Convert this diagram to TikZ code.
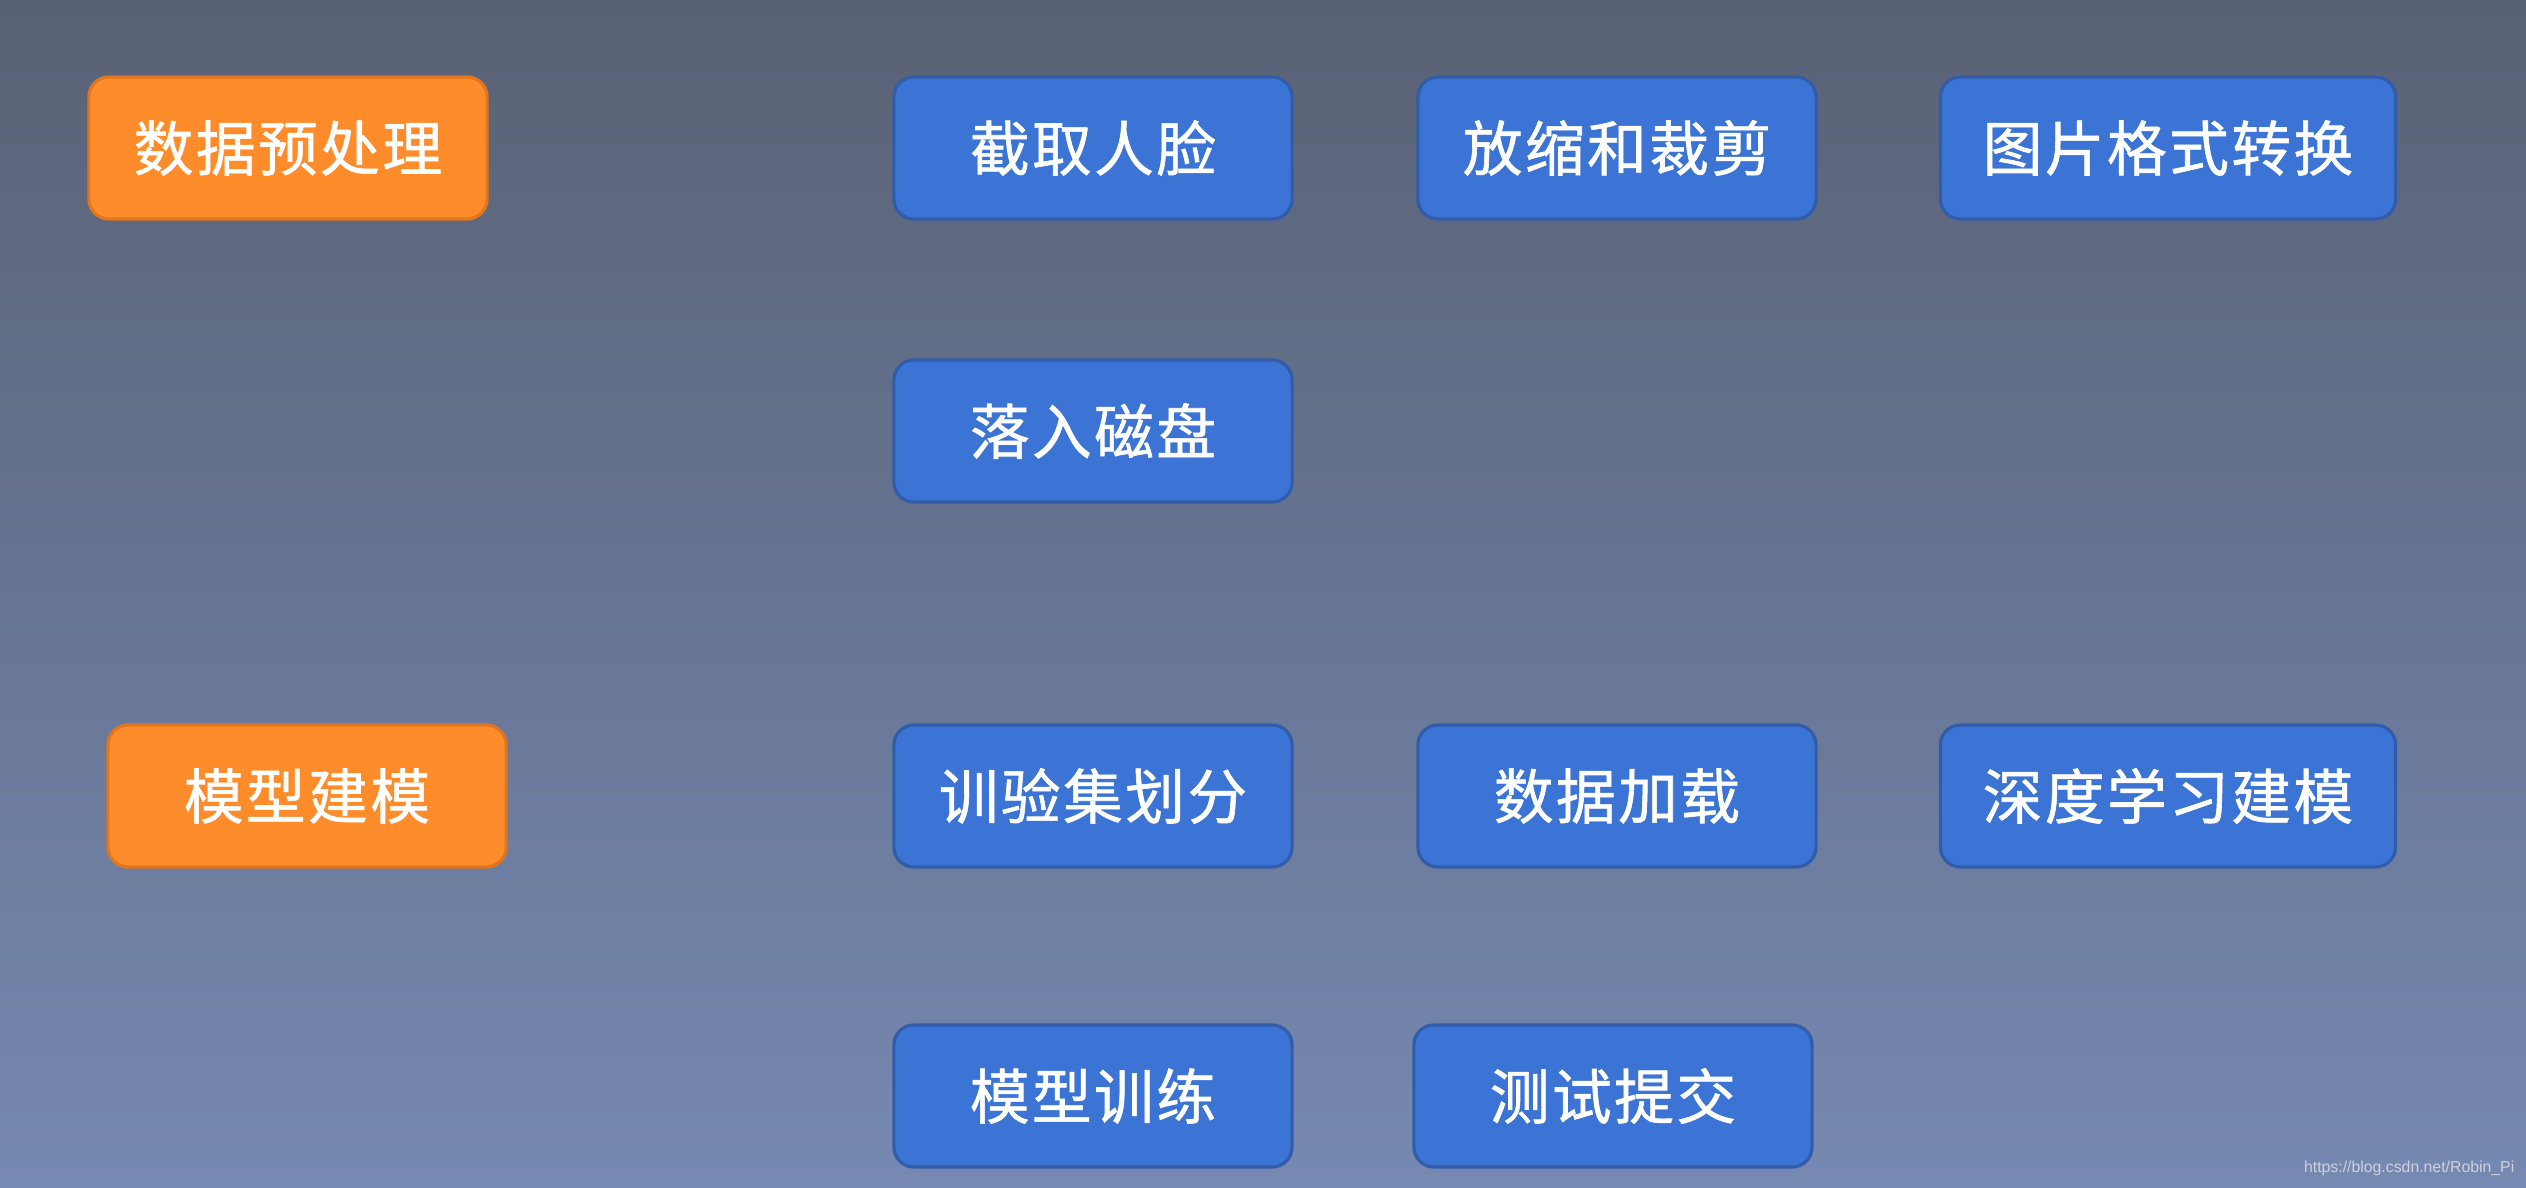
\documentclass[tikz,border=0pt]{standalone}
\usepackage{fontspec}
\newfontfamily\cjk[LetterSpace=4,FakeBold=1]{Noto Sans CJK SC}
\newfontfamily\wmfont{Liberation Sans}
\definecolor{bgtop}{RGB}{89,97,116}
\definecolor{bgbot}{RGB}{118,137,178}
\definecolor{stepblue}{RGB}{59,116,212}
\definecolor{stepblueline}{RGB}{48,92,170}
\definecolor{stageorange}{RGB}{255,140,42}
\definecolor{stageorangeline}{RGB}{226,118,30}
\definecolor{marktext}{RGB}{205,210,222}

\begin{document}
\begin{tikzpicture}[x=0.01cm, y=-0.01cm, block/.style={rectangle, rounded corners=0.2cm, draw=stepblueline, fill=stepblue, line width=0.9pt, text=white, font=\cjk\fontsize{17}{20}\selectfont, minimum width=3.98cm, minimum height=1.42cm, inner sep=0pt}, stage/.style={block, draw=stageorangeline, fill=stageorange}, wide/.style={minimum width=4.55cm},]
   \shade[top color=bgtop, bottom color=bgbot] (0,0) rectangle (2526,1188);
   % preprocessing row
   \node[stage] (prep) at (288,148) {数据预处理};
   \node[block] (crop) at (1093,148) {截取人脸};
   \node[block] (resize) at (1617,148) {放缩和裁剪};
   \node[block, wide] (convert) at (2168,148) {图片格式转换};
   \node[block] (save) at (1093,431) {落入磁盘};
   % modelling row
   \node[stage] (model) at (307,796) {模型建模};
   \node[block] (split) at (1093,796) {训验集划分};
   \node[block] (load) at (1617,796) {数据加载};
   \node[block, wide] (net) at (2168,796) {深度学习建模};
   \node[block] (train) at (1093,1096) {模型训练};
   \node[block] (submit) at (1613,1096) {测试提交};
   \node[anchor=east, inner sep=0pt, text=marktext, font=\wmfont\fontsize{4.5}{5}\selectfont] (mark) at (2515,1168) {https://blog.csdn.net/Robin\_Pi};
 \end{tikzpicture}
\end{document}
